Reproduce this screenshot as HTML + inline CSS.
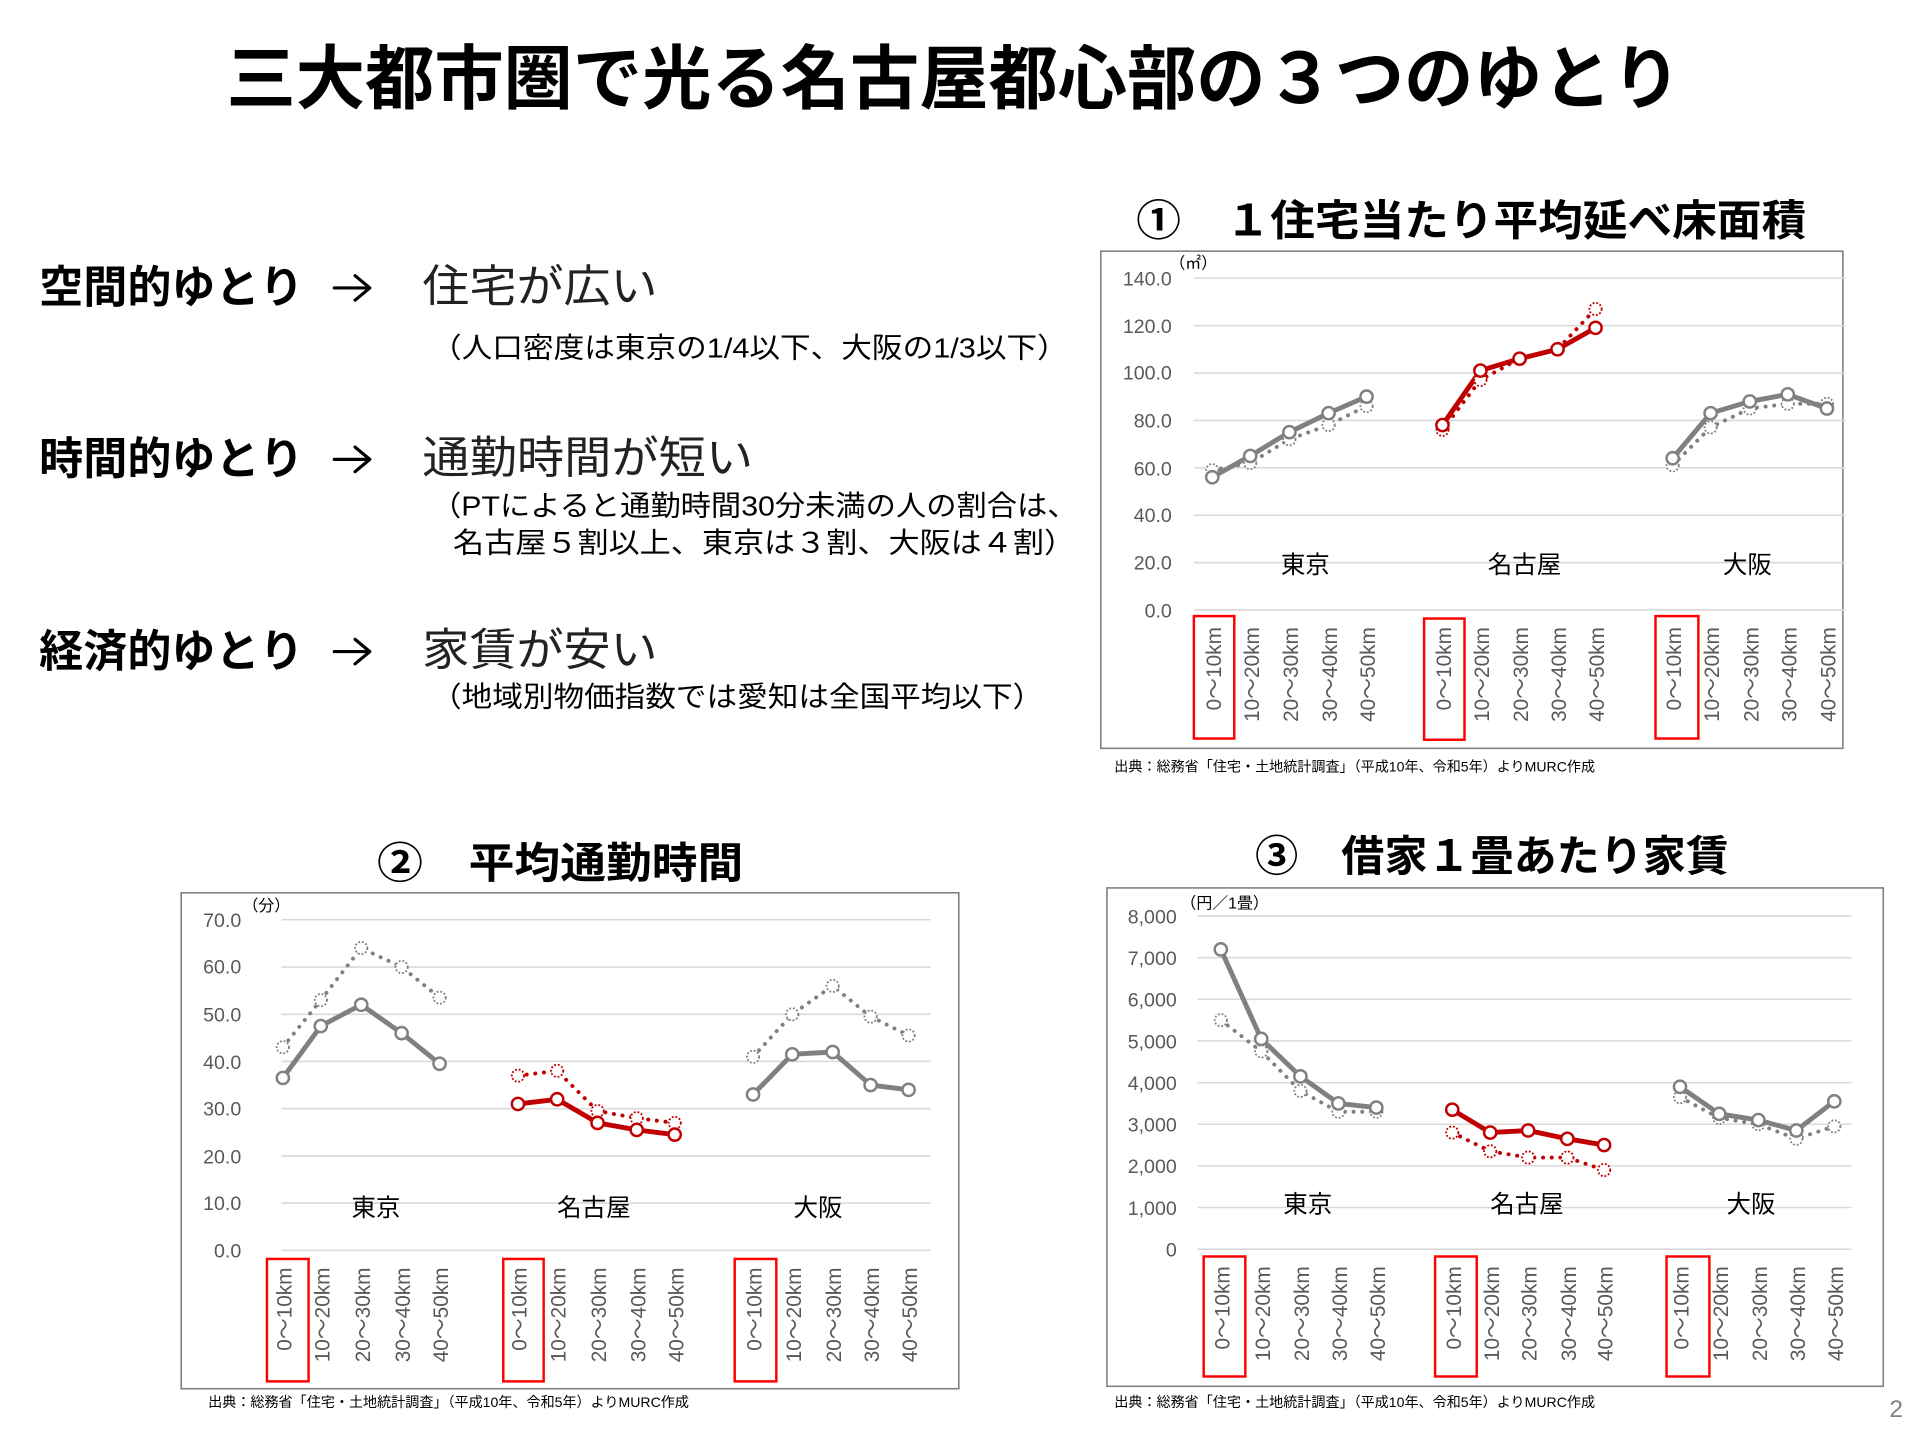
<!DOCTYPE html>
<html><head><meta charset="utf-8"><style>
html,body{margin:0;padding:0;background:#fff;}
svg{display:block;}
text{font-family:"Liberation Sans","Noto Sans CJK JP",sans-serif;}
.t{font-size:16px;fill:#595959;}
.x{font-size:17px;fill:#595959;}
.g{font-size:20px;fill:#000;}
.s{stroke:#808080;stroke-width:4;fill:none;stroke-linejoin:round;}
.sr{stroke:#c00000;stroke-width:4;fill:none;stroke-linejoin:round;}
.d{stroke:#808080;stroke-width:3.2;fill:none;stroke-dasharray:0.1 7;stroke-linecap:round;}
.dr{stroke:#c00000;stroke-width:3.2;fill:none;stroke-dasharray:0.1 7;stroke-linecap:round;}
.grid line{stroke:#d9d9d9;stroke-width:1.3;}
.box{fill:none;stroke:#ff0000;stroke-width:2;}
.frame{fill:none;stroke:#808080;stroke-width:1.3;}
.src{font-size:11.5px;fill:#000;}
.arr{stroke:#000;stroke-width:2.6;fill:none;stroke-linecap:round;stroke-linejoin:round;}
</style></head><body>
<svg width="1920" height="1444" viewBox="0 0 1568 1179" xmlns="http://www.w3.org/2000/svg">
<defs>
<g id="mg"><circle r="5" fill="#fff" stroke="#808080" stroke-width="2"/></g>
<g id="mr"><circle r="5" fill="#fff" stroke="#c00000" stroke-width="2"/></g>
<g id="dg"><circle r="5" fill="#fff" stroke="#808080" stroke-width="1.5" stroke-dasharray="1.5 1.5"/></g>
<g id="dr"><circle r="5" fill="#fff" stroke="#c00000" stroke-width="1.5" stroke-dasharray="1.5 1.5"/></g>
<g id="arrow"><path class="arr" d="M0,0 H28 M17,-10 L29,0 L17,10"/></g>
</defs>

<text x="185" y="84" textLength="1188" lengthAdjust="spacingAndGlyphs" style="font-size:57px;font-weight:bold;fill:#000;">三大都市圏で光る名古屋都心部の３つのゆとり</text>

<!-- left texts -->
<g style="fill:#000">
<text x="32" y="247" style="font-size:36px;font-weight:bold;">空間的ゆとり</text>
<use href="#arrow" x="273" y="235"/>
<text x="345" y="246" textLength="192" lengthAdjust="spacingAndGlyphs" style="font-size:36px;fill:#222;">住宅が広い</text>
<text x="352" y="292" textLength="520" lengthAdjust="spacingAndGlyphs" style="font-size:23px;">（人口密度は東京の1/4以下、大阪の1/3以下）</text>
<text x="32" y="387" style="font-size:36px;font-weight:bold;">時間的ゆとり</text>
<use href="#arrow" x="273" y="375"/>
<text x="345" y="386" textLength="270" lengthAdjust="spacingAndGlyphs" style="font-size:36px;fill:#222;">通勤時間が短い</text>
<text x="352" y="421" textLength="528" lengthAdjust="spacingAndGlyphs" style="font-size:23px;">（PTによると通勤時間30分未満の人の割合は、</text>
<text x="370" y="451" textLength="508" lengthAdjust="spacingAndGlyphs" style="font-size:23px;">名古屋５割以上、東京は３割、大阪は４割）</text>
<text x="32" y="544" style="font-size:36px;font-weight:bold;">経済的ゆとり</text>
<use href="#arrow" x="273" y="532"/>
<text x="345" y="543" textLength="192" lengthAdjust="spacingAndGlyphs" style="font-size:36px;fill:#222;">家賃が安い</text>
<text x="352" y="577" textLength="500" lengthAdjust="spacingAndGlyphs" style="font-size:23px;">（地域別物価指数では愛知は全国平均以下）</text>
</g>

<!-- Section titles -->
<text x="928" y="192" textLength="547" lengthAdjust="spacingAndGlyphs" style="font-size:35px;font-weight:bold;fill:#000;">①　１住宅当たり平均延べ床面積</text>
<text x="308" y="717" textLength="299" lengthAdjust="spacingAndGlyphs" style="font-size:35px;font-weight:bold;fill:#000;">②　平均通勤時間</text>
<text x="1025" y="711" textLength="387" lengthAdjust="spacingAndGlyphs" style="font-size:35px;font-weight:bold;fill:#000;">③　借家１畳あたり家賃</text>

<!-- CHART 1 -->
<rect class="frame" x="899" y="205" width="606" height="406"/>
<g class="grid">
<line x1="975" x2="1507" y1="498" y2="498"/><line x1="975" x2="1507" y1="459.3" y2="459.3"/><line x1="975" x2="1507" y1="420.6" y2="420.6"/><line x1="975" x2="1507" y1="381.9" y2="381.9"/><line x1="975" x2="1507" y1="343.2" y2="343.2"/><line x1="975" x2="1507" y1="304.5" y2="304.5"/><line x1="975" x2="1507" y1="265.8" y2="265.8"/><line x1="975" x2="1507" y1="227" y2="227"/>
</g>
<g class="t" text-anchor="end">
<text x="957" y="504">0.0</text><text x="957" y="465">20.0</text><text x="957" y="426">40.0</text><text x="957" y="388">60.0</text><text x="957" y="349">80.0</text><text x="957" y="310">100.0</text><text x="957" y="272">120.0</text><text x="957" y="233">140.0</text>
</g>
<text x="955" y="219" style="font-size:13px;fill:#000">（㎡）</text>
<text class="g" x="1066" y="468" text-anchor="middle">東京</text>
<text class="g" x="1245" y="468" text-anchor="middle">名古屋</text>
<text class="g" x="1427" y="468" text-anchor="middle">大阪</text>
<polyline class="d" points="990,383.8 1021,378 1053,358.6 1085,347 1116,331.5"/>
<polyline class="s" points="990,389.6 1021,372.2 1053,352.8 1085,337.3 1116,323.8"/>
<polyline class="dr" points="1178,350.9 1209,310.2 1241,292.8 1272,285.1 1303,252.2"/>
<polyline class="sr" points="1178,347 1209,302.5 1241,292.8 1272,285.1 1303,267.6"/>
<polyline class="d" points="1366,379.9 1397,348.9 1429,333.5 1460,329.6 1492,329.6"/>
<polyline class="s" points="1366,374.1 1397,337.3 1429,327.7 1460,321.9 1492,333.5"/>
<use href="#dg" x="990" y="383.8"/><use href="#dg" x="1021" y="378"/><use href="#dg" x="1053" y="358.6"/><use href="#dg" x="1085" y="347"/><use href="#dg" x="1116" y="331.5"/>
<use href="#mg" x="990" y="389.6"/><use href="#mg" x="1021" y="372.2"/><use href="#mg" x="1053" y="352.8"/><use href="#mg" x="1085" y="337.3"/><use href="#mg" x="1116" y="323.8"/>
<use href="#dr" x="1178" y="350.9"/><use href="#dr" x="1209" y="310.2"/><use href="#dr" x="1303" y="252.2"/>
<use href="#mr" x="1178" y="347"/><use href="#mr" x="1209" y="302.5"/><use href="#mr" x="1241" y="292.8"/><use href="#mr" x="1272" y="285.1"/><use href="#mr" x="1303" y="267.6"/>
<use href="#dg" x="1366" y="379.9"/><use href="#dg" x="1397" y="348.9"/><use href="#dg" x="1429" y="333.5"/><use href="#dg" x="1460" y="329.6"/><use href="#dg" x="1492" y="329.6"/>
<use href="#mg" x="1366" y="374.1"/><use href="#mg" x="1397" y="337.3"/><use href="#mg" x="1429" y="327.7"/><use href="#mg" x="1460" y="321.9"/><use href="#mg" x="1492" y="333.5"/>
<g class="x" text-anchor="end">
<text transform="translate(997,512) rotate(-90)">0～10km</text><text transform="translate(1028,512) rotate(-90)">10～20km</text><text transform="translate(1060,512) rotate(-90)">20～30km</text><text transform="translate(1092,512) rotate(-90)">30～40km</text><text transform="translate(1123,512) rotate(-90)">40～50km</text>
<text transform="translate(1185,512) rotate(-90)">0～10km</text><text transform="translate(1216,512) rotate(-90)">10～20km</text><text transform="translate(1248,512) rotate(-90)">20～30km</text><text transform="translate(1279,512) rotate(-90)">30～40km</text><text transform="translate(1310,512) rotate(-90)">40～50km</text>
<text transform="translate(1373,512) rotate(-90)">0～10km</text><text transform="translate(1404,512) rotate(-90)">10～20km</text><text transform="translate(1436,512) rotate(-90)">20～30km</text><text transform="translate(1467,512) rotate(-90)">30～40km</text><text transform="translate(1499,512) rotate(-90)">40～50km</text>
</g>
<rect class="box" x="975" y="503" width="33" height="100"/>
<rect class="box" x="1163" y="505" width="33" height="99"/>
<rect class="box" x="1352" y="503" width="35" height="100"/>
<text class="src" x="910" y="630">出典：総務省「住宅・土地統計調査」（平成10年、令和5年）よりMURC作成</text>

<!-- CHART 2 -->
<rect class="frame" x="148" y="729" width="635" height="405"/>
<g class="grid">
<line x1="230" x2="760" y1="1021" y2="1021"/><line x1="230" x2="760" y1="982.4" y2="982.4"/><line x1="230" x2="760" y1="943.9" y2="943.9"/><line x1="230" x2="760" y1="905.3" y2="905.3"/><line x1="230" x2="760" y1="866.7" y2="866.7"/><line x1="230" x2="760" y1="828.2" y2="828.2"/><line x1="230" x2="760" y1="789.6" y2="789.6"/><line x1="230" x2="760" y1="751" y2="751"/>
</g>
<g class="t" text-anchor="end">
<text x="197" y="1027">0.0</text><text x="197" y="988">10.0</text><text x="197" y="950">20.0</text><text x="197" y="911">30.0</text><text x="197" y="873">40.0</text><text x="197" y="834">50.0</text><text x="197" y="795">60.0</text><text x="197" y="757">70.0</text>
</g>
<text x="198" y="744" style="font-size:13px;fill:#000">（分）</text>
<text class="g" x="307" y="993" text-anchor="middle">東京</text>
<text class="g" x="485" y="993" text-anchor="middle">名古屋</text>
<text class="g" x="668" y="993" text-anchor="middle">大阪</text>
<polyline class="d" points="231,855.1 262,816.6 295,774.1 328,789.6 359,814.6"/>
<polyline class="s" points="231,880.2 262,837.8 295,820.4 328,843.6 359,868.6"/>
<polyline class="dr" points="423,878.3 455,874.4 488,907.2 520,913 551,916.9"/>
<polyline class="sr" points="423,901.4 455,897.6 488,916.9 520,922.6 551,926.5"/>
<polyline class="d" points="615,862.9 647,828.2 680,805 711,830.1 742,845.5"/>
<polyline class="s" points="615,893.7 647,860.9 680,859 711,886 742,889.9"/>
<use href="#dg" x="231" y="855.1"/><use href="#dg" x="262" y="816.6"/><use href="#dg" x="295" y="774.1"/><use href="#dg" x="328" y="789.6"/><use href="#dg" x="359" y="814.6"/>
<use href="#mg" x="231" y="880.2"/><use href="#mg" x="262" y="837.8"/><use href="#mg" x="295" y="820.4"/><use href="#mg" x="328" y="843.6"/><use href="#mg" x="359" y="868.6"/>
<use href="#dr" x="423" y="878.3"/><use href="#dr" x="455" y="874.4"/><use href="#dr" x="488" y="907.2"/><use href="#dr" x="520" y="913"/><use href="#dr" x="551" y="916.9"/>
<use href="#mr" x="423" y="901.4"/><use href="#mr" x="455" y="897.6"/><use href="#mr" x="488" y="916.9"/><use href="#mr" x="520" y="922.6"/><use href="#mr" x="551" y="926.5"/>
<use href="#dg" x="615" y="862.9"/><use href="#dg" x="647" y="828.2"/><use href="#dg" x="680" y="805"/><use href="#dg" x="711" y="830.1"/><use href="#dg" x="742" y="845.5"/>
<use href="#mg" x="615" y="893.7"/><use href="#mg" x="647" y="860.9"/><use href="#mg" x="680" y="859"/><use href="#mg" x="711" y="886"/><use href="#mg" x="742" y="889.9"/>
<g class="x" text-anchor="end">
<text transform="translate(238,1035) rotate(-90)">0～10km</text><text transform="translate(269,1035) rotate(-90)">10～20km</text><text transform="translate(302,1035) rotate(-90)">20～30km</text><text transform="translate(335,1035) rotate(-90)">30～40km</text><text transform="translate(366,1035) rotate(-90)">40～50km</text>
<text transform="translate(430,1035) rotate(-90)">0～10km</text><text transform="translate(462,1035) rotate(-90)">10～20km</text><text transform="translate(495,1035) rotate(-90)">20～30km</text><text transform="translate(527,1035) rotate(-90)">30～40km</text><text transform="translate(558,1035) rotate(-90)">40～50km</text>
<text transform="translate(622,1035) rotate(-90)">0～10km</text><text transform="translate(654,1035) rotate(-90)">10～20km</text><text transform="translate(687,1035) rotate(-90)">20～30km</text><text transform="translate(718,1035) rotate(-90)">30～40km</text><text transform="translate(749,1035) rotate(-90)">40～50km</text>
</g>
<rect class="box" x="218" y="1028" width="34" height="100"/>
<rect class="box" x="411" y="1028" width="33" height="100"/>
<rect class="box" x="600" y="1028" width="34" height="100"/>
<text class="src" x="170" y="1149">出典：総務省「住宅・土地統計調査」（平成10年、令和5年）よりMURC作成</text>

<!-- CHART 3 -->
<rect class="frame" x="904" y="725" width="634" height="407"/>
<g class="grid">
<line x1="978" x2="1512" y1="1020" y2="1020"/><line x1="978" x2="1512" y1="986" y2="986"/><line x1="978" x2="1512" y1="952" y2="952"/><line x1="978" x2="1512" y1="918" y2="918"/><line x1="978" x2="1512" y1="884" y2="884"/><line x1="978" x2="1512" y1="850" y2="850"/><line x1="978" x2="1512" y1="816" y2="816"/><line x1="978" x2="1512" y1="782" y2="782"/><line x1="978" x2="1512" y1="748" y2="748"/>
</g>
<g class="t" text-anchor="end">
<text x="961" y="1026">0</text><text x="961" y="992">1,000</text><text x="961" y="958">2,000</text><text x="961" y="924">3,000</text><text x="961" y="890">4,000</text><text x="961" y="856">5,000</text><text x="961" y="822">6,000</text><text x="961" y="788">7,000</text><text x="961" y="754">8,000</text>
</g>
<text x="964" y="742" style="font-size:13px;fill:#000">（円／1畳）</text>
<text class="g" x="1068" y="990" text-anchor="middle">東京</text>
<text class="g" x="1247" y="990" text-anchor="middle">名古屋</text>
<text class="g" x="1430" y="990" text-anchor="middle">大阪</text>
<polyline class="d" points="997,833 1030,858.5 1062,890.8 1093,907.8 1124,907.8"/>
<polyline class="s" points="997,775.2 1030,848.3 1062,878.9 1093,901 1124,904.4"/>
<polyline class="dr" points="1186,924.8 1217,940.1 1248,945.2 1280,945.2 1310,955.4"/>
<polyline class="sr" points="1186,906.1 1217,924.8 1248,923.1 1280,929.9 1310,935"/>
<polyline class="d" points="1372,895.9 1404,912.9 1436,918 1467,929.9 1498,919.7"/>
<polyline class="s" points="1372,887.4 1404,909.5 1436,914.6 1467,923.1 1498,899.3"/>
<use href="#dg" x="997" y="833"/><use href="#dg" x="1030" y="858.5"/><use href="#dg" x="1062" y="890.8"/><use href="#dg" x="1093" y="907.8"/><use href="#dg" x="1124" y="907.8"/>
<use href="#mg" x="997" y="775.2"/><use href="#mg" x="1030" y="848.3"/><use href="#mg" x="1062" y="878.9"/><use href="#mg" x="1093" y="901"/><use href="#mg" x="1124" y="904.4"/>
<use href="#dr" x="1186" y="924.8"/><use href="#dr" x="1217" y="940.1"/><use href="#dr" x="1248" y="945.2"/><use href="#dr" x="1280" y="945.2"/><use href="#dr" x="1310" y="955.4"/>
<use href="#mr" x="1186" y="906.1"/><use href="#mr" x="1217" y="924.8"/><use href="#mr" x="1248" y="923.1"/><use href="#mr" x="1280" y="929.9"/><use href="#mr" x="1310" y="935"/>
<use href="#dg" x="1372" y="895.9"/><use href="#dg" x="1404" y="912.9"/><use href="#dg" x="1436" y="918"/><use href="#dg" x="1467" y="929.9"/><use href="#dg" x="1498" y="919.7"/>
<use href="#mg" x="1372" y="887.4"/><use href="#mg" x="1404" y="909.5"/><use href="#mg" x="1436" y="914.6"/><use href="#mg" x="1467" y="923.1"/><use href="#mg" x="1498" y="899.3"/>
<g class="x" text-anchor="end">
<text transform="translate(1004,1034) rotate(-90)">0～10km</text><text transform="translate(1037,1034) rotate(-90)">10～20km</text><text transform="translate(1069,1034) rotate(-90)">20～30km</text><text transform="translate(1100,1034) rotate(-90)">30～40km</text><text transform="translate(1131,1034) rotate(-90)">40～50km</text>
<text transform="translate(1193,1034) rotate(-90)">0～10km</text><text transform="translate(1224,1034) rotate(-90)">10～20km</text><text transform="translate(1255,1034) rotate(-90)">20～30km</text><text transform="translate(1287,1034) rotate(-90)">30～40km</text><text transform="translate(1317,1034) rotate(-90)">40～50km</text>
<text transform="translate(1379,1034) rotate(-90)">0～10km</text><text transform="translate(1411,1034) rotate(-90)">10～20km</text><text transform="translate(1443,1034) rotate(-90)">20～30km</text><text transform="translate(1474,1034) rotate(-90)">30～40km</text><text transform="translate(1505,1034) rotate(-90)">40～50km</text>
</g>
<rect class="box" x="983" y="1026" width="34" height="98"/>
<rect class="box" x="1172" y="1026" width="34" height="98"/>
<rect class="box" x="1361" y="1026" width="35" height="98"/>
<text class="src" x="910" y="1149">出典：総務省「住宅・土地統計調査」（平成10年、令和5年）よりMURC作成</text>

<text x="1543" y="1157" style="font-size:20px;fill:#808080;">2</text>
</svg>
</body></html>
